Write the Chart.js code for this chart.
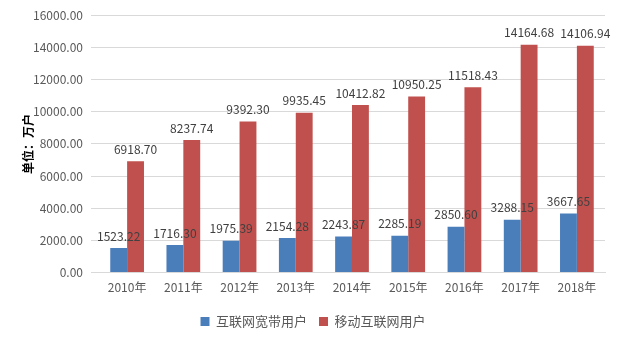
<!DOCTYPE html>
<html><head><meta charset="utf-8">
<script src="https://cdn.jsdelivr.net/npm/chart.js@4/dist/chart.umd.min.js"></script>
<style>html,body{margin:0;padding:0;background:#fff}#wrap{width:640px;height:342px}</style>
</head><body><div id="wrap"><canvas id="c" width="640" height="342"></canvas></div>
<script>
const categories = ["2010年","2011年","2012年","2013年","2014年","2015年","2016年","2017年","2018年"];
const broadband = [1523.22,1716.30,1975.39,2154.28,2243.87,2285.19,2850.60,3288.15,3667.65];
const mobile = [6918.70,8237.74,9392.30,9935.45,10412.82,10950.25,11518.43,14164.68,14106.94];
const seriesNames = ["互联网宽带用户","移动互联网用户"];
const yTicks = [0,2000,4000,6000,8000,10000,12000,14000,16000];

const FONT = '"Noto Sans CJK SC", "Liberation Sans", sans-serif';
const labelPlugin = {
  id: 'vlabels',
  afterDatasetsDraw(chart) {
    const ctx = chart.ctx;
    ctx.save();
    ctx.font = '12px ' + FONT;
    ctx.fillStyle = '#404040';
    ctx.textAlign = 'center';
    ctx.textBaseline = 'bottom';
    chart.data.datasets.forEach((ds, di) => {
      chart.getDatasetMeta(di).data.forEach((el, i) => {
        ctx.fillText(ds.data[i].toFixed(2), el.x, el.y - 6);
      });
    });
    ctx.restore();
  }
};

new Chart(document.getElementById('c'), {
  type: 'bar',
  data: {
    labels: categories,
    datasets: [
      {label: seriesNames[0], data: broadband, backgroundColor: '#4a7ebb'},
      {label: seriesNames[1], data: mobile, backgroundColor: '#c0504d'}
    ]
  },
  options: {
    responsive: false,
    animation: false,
    devicePixelRatio: 1,
    layout: {padding: {left: 21, right: 35, top: 9, bottom: 4}},
    datasets: {bar: {categoryPercentage: 0.6, barPercentage: 1.0}},
    plugins: {
      legend: {
        position: 'bottom',
        labels: {font: {size: 13, family: FONT}, color: '#595959', boxWidth: 9, boxHeight: 9, padding: 12}
      },
      tooltip: {enabled: false}
    },
    scales: {
      x: {
        afterFit: (s) => { s.height = s.height + 8; },
        grid: {display: false},
        border: {color: '#d9d9d9'},
        ticks: {font: {size: 12, family: FONT}, color: '#595959', padding: 0}
      },
      y: {
        min: 0, max: 16000,
        afterBuildTicks: (s) => { s.ticks = yTicks.map(v => ({value: v})); },
        afterFit: (s) => { s.width = 78; },
        grid: {color: '#d9d9d9'},
        border: {display: false},
        ticks: {font: {size: 12, family: FONT}, color: '#595959', padding: 8, callback: v => Number(v).toFixed(2)},
        title: {display: true, text: '单位：万户', font: {size: 12, weight: 'bold', family: FONT}, color: '#000', padding: 0}
      }
    }
  },
  plugins: [labelPlugin]
});
</script></body></html>
